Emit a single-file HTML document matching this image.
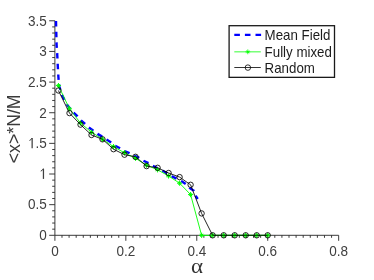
<!DOCTYPE html>
<html><head><meta charset="utf-8"><title>chart</title>
<style>html,body{margin:0;padding:0;background:#fff;}svg{display:block;will-change:transform;}</style></head>
<body>
<svg width="374" height="280" viewBox="0 0 374 280">
<rect width="374" height="280" fill="#fff"/>
<g stroke="#262626" stroke-width="0.9" fill="none">
<path d="M54.90 20.79V235.30H338.66"/>
<path d="M54.90 235.30h-5.7M54.90 229.17h-2.7M54.90 223.04h-2.7M54.90 216.91h-2.7M54.90 210.78h-2.7M54.90 204.66h-5.7M54.90 198.53h-2.7M54.90 192.40h-2.7M54.90 186.27h-2.7M54.90 180.14h-2.7M54.90 174.01h-5.7M54.90 167.88h-2.7M54.90 161.75h-2.7M54.90 155.62h-2.7M54.90 149.49h-2.7M54.90 143.37h-5.7M54.90 137.24h-2.7M54.90 131.11h-2.7M54.90 124.98h-2.7M54.90 118.85h-2.7M54.90 112.72h-5.7M54.90 106.59h-2.7M54.90 100.46h-2.7M54.90 94.33h-2.7M54.90 88.20h-2.7M54.90 82.08h-5.7M54.90 75.95h-2.7M54.90 69.82h-2.7M54.90 63.69h-2.7M54.90 57.56h-2.7M54.90 51.43h-5.7M54.90 45.30h-2.7M54.90 39.17h-2.7M54.90 33.04h-2.7M54.90 26.91h-2.7M54.90 20.79h-5.7M54.90 235.30v5.5M61.99 235.30v2.5M69.09 235.30v2.5M76.18 235.30v2.5M83.28 235.30v2.5M90.37 235.30v2.5M97.46 235.30v2.5M104.56 235.30v2.5M111.65 235.30v2.5M118.75 235.30v2.5M125.84 235.30v5.5M132.93 235.30v2.5M140.03 235.30v2.5M147.12 235.30v2.5M154.22 235.30v2.5M161.31 235.30v2.5M168.40 235.30v2.5M175.50 235.30v2.5M182.59 235.30v2.5M189.69 235.30v2.5M196.78 235.30v5.5M203.87 235.30v2.5M210.97 235.30v2.5M218.06 235.30v2.5M225.16 235.30v2.5M232.25 235.30v2.5M239.34 235.30v2.5M246.44 235.30v2.5M253.53 235.30v2.5M260.63 235.30v2.5M267.72 235.30v5.5M274.81 235.30v2.5M281.91 235.30v2.5M289.00 235.30v2.5M296.10 235.30v2.5M303.19 235.30v2.5M310.28 235.30v2.5M317.38 235.30v2.5M324.47 235.30v2.5M331.57 235.30v2.5M338.66 235.30v5.5"/>
</g>
<g font-family="Liberation Sans, sans-serif" font-size="13.33px" fill="#262626">
<text transform="translate(46.70 240.10) scale(0.94 1)" font-family="Liberation Sans, sans-serif" font-size="14.4px" fill="#404040" text-anchor="end">0</text>
<text transform="translate(46.70 209.46) scale(0.94 1)" font-family="Liberation Sans, sans-serif" font-size="14.4px" fill="#404040" text-anchor="end">0.5</text>
<g transform="translate(43.45 178.81)" fill="none" stroke="#404040"><path d="M0 -10.1V0.1" stroke-width="1.25"/><path d="M-0.2 -10.1Q-0.7 -8.4 -2.7 -7.7" stroke-width="1.0"/></g>
<text transform="translate(46.70 148.17) scale(0.94 1)" font-family="Liberation Sans, sans-serif" font-size="14.4px" fill="#404040" text-anchor="end">.5</text>
<g transform="translate(32.15 148.17)" fill="none" stroke="#404040"><path d="M0 -10.1V0.1" stroke-width="1.25"/><path d="M-0.2 -10.1Q-0.7 -8.4 -2.7 -7.7" stroke-width="1.0"/></g>
<text transform="translate(46.70 117.52) scale(0.94 1)" font-family="Liberation Sans, sans-serif" font-size="14.4px" fill="#404040" text-anchor="end">2</text>
<text transform="translate(46.70 86.88) scale(0.94 1)" font-family="Liberation Sans, sans-serif" font-size="14.4px" fill="#404040" text-anchor="end">2.5</text>
<text transform="translate(46.70 56.23) scale(0.94 1)" font-family="Liberation Sans, sans-serif" font-size="14.4px" fill="#404040" text-anchor="end">3</text>
<text transform="translate(46.70 25.59) scale(0.94 1)" font-family="Liberation Sans, sans-serif" font-size="14.4px" fill="#404040" text-anchor="end">3.5</text>
<text transform="translate(54.90 255.60) scale(0.94 1)" font-family="Liberation Sans, sans-serif" font-size="14.4px" fill="#404040" text-anchor="middle">0</text>
<text transform="translate(125.84 255.60) scale(0.94 1)" font-family="Liberation Sans, sans-serif" font-size="14.4px" fill="#404040" text-anchor="middle">0.2</text>
<text transform="translate(196.78 255.60) scale(0.94 1)" font-family="Liberation Sans, sans-serif" font-size="14.4px" fill="#404040" text-anchor="middle">0.4</text>
<text transform="translate(267.72 255.60) scale(0.94 1)" font-family="Liberation Sans, sans-serif" font-size="14.4px" fill="#404040" text-anchor="middle">0.6</text>
<text transform="translate(338.66 255.60) scale(0.94 1)" font-family="Liberation Sans, sans-serif" font-size="14.4px" fill="#404040" text-anchor="middle">0.8</text>
</g>
<text font-family="Liberation Sans, sans-serif" font-size="17.7px" fill="#3a3a3a" text-anchor="middle" transform="translate(19.8 128.8) rotate(-90)">&lt;x&gt;*N/M</text>
<text transform="translate(197.00 272.60) scale(1.14 1)" font-family="Liberation Serif, serif" font-size="20.2px" fill="#333" text-anchor="middle">α</text>
<defs><clipPath id="ca"><rect x="0" y="0" width="374" height="82.5"/></clipPath><clipPath id="cb"><rect x="0" y="82.5" width="374" height="200"/></clipPath></defs>
<path d="M56.0 21.0 L56.3 33.0 L56.6 45.0 L57.0 50.0 L57.3 55.7 L57.8 66.4 L58.4 77.0 L58.9 83.0 L59.5 87.0 L62.0 95.0 L66.9 104.4 L70.7 109.4 L73.2 112.2 L77.6 116.3 L80.7 120.1 L85.1 123.9 L88.9 127.6 L93.8 131.0 L97.5 133.9 L102.8 137.0 L106.4 139.5 L111.4 142.6 L115.2 145.8 L120.1 148.3 L124.2 151.0 L129.5 153.2 L133.9 155.3 L138.6 157.6 L143.3 160.7 L148.7 163.2 L152.6 165.7 L158.1 168.4 L162.6 170.7 L168.2 173.9 L172.0 176.4 L177.0 178.9 L181.3 181.1 L185.7 184.1 L189.5 187.9 L193.9 190.7 L195.7 195.8 L197.7 199.0" fill="none" stroke="#0000ff" stroke-width="2.4" stroke-dasharray="5.5 5.2" clip-path="url(#ca)"/>
<path d="M56.0 21.0 L56.3 33.0 L56.6 45.0 L57.0 50.0 L57.3 55.7 L57.8 66.4 L58.4 77.0 L58.9 83.0 L59.5 87.0 L62.0 95.0 L66.9 104.4 L70.7 109.4 L73.2 112.2 L77.6 116.3 L80.7 120.1 L85.1 123.9 L88.9 127.6 L93.8 131.0 L97.5 133.9 L102.8 137.0 L106.4 139.5 L111.4 142.6 L115.2 145.8 L120.1 148.3 L124.2 151.0 L129.5 153.2 L133.9 155.3 L138.6 157.6 L143.3 160.7 L148.7 163.2 L152.6 165.7 L158.1 168.4 L162.6 170.7 L168.2 173.9 L172.0 176.4 L177.0 178.9 L181.3 181.1 L185.7 184.1 L189.5 187.9 L193.9 190.7 L195.7 195.8 L197.7 199.0" fill="none" stroke="#0000ff" stroke-width="2.4" stroke-dasharray="5.5 5.2" stroke-dashoffset="0.6" clip-path="url(#cb)"/>
<path d="M58.4 85.6 L69.5 108.8 L80.5 123.1 L91.5 132.2 L102.5 139.2 L113.5 146.7 L124.5 152.8 L135.5 158.3 L146.6 165.2 L157.6 169.8 L168.6 176.0 L179.6 183.2 L190.6 194.6 L201.6 235.3 L212.6 235.3 L223.7 235.3 L234.7 235.3 L245.7 235.3 L256.7 235.3 L267.7 235.3" fill="none" stroke="#00ff00" stroke-width="0.9"/>
<path d="M55.85 85.60L61.05 85.60M56.98 84.13L59.92 87.07M58.45 83.00L58.45 88.20M59.92 84.13L56.98 87.07M66.86 108.80L72.06 108.80M67.99 107.33L70.93 110.27M69.46 106.20L69.46 111.40M70.93 107.33L67.99 110.27M77.88 123.10L83.08 123.10M79.00 121.63L81.95 124.57M80.48 120.50L80.48 125.70M81.95 121.63L79.00 124.57M88.89 132.20L94.09 132.20M90.02 130.73L92.96 133.67M91.49 129.60L91.49 134.80M92.96 130.73L90.02 133.67M99.90 139.20L105.10 139.20M101.03 137.73L103.98 140.67M102.50 136.60L102.50 141.80M103.98 137.73L101.03 140.67M110.92 146.70L116.12 146.70M112.05 145.23L114.99 148.17M113.52 144.10L113.52 149.30M114.99 145.23L112.05 148.17M121.93 152.80L127.13 152.80M123.06 151.33L126.00 154.27M124.53 150.20L124.53 155.40M126.00 151.33L123.06 154.27M132.95 158.30L138.15 158.30M134.08 156.83L137.02 159.77M135.55 155.70L135.55 160.90M137.02 156.83L134.08 159.77M143.96 165.20L149.16 165.20M145.09 163.73L148.03 166.67M146.56 162.60L146.56 167.80M148.03 163.73L145.09 166.67M154.98 169.80L160.18 169.80M156.11 168.33L159.05 171.27M157.58 167.20L157.58 172.40M159.05 168.33L156.11 171.27M165.99 176.00L171.19 176.00M167.12 174.53L170.06 177.47M168.59 173.40L168.59 178.60M170.06 174.53L167.12 177.47M177.01 183.20L182.21 183.20M178.13 181.73L181.08 184.67M179.61 180.60L179.61 185.80M181.08 181.73L178.13 184.67M188.02 194.60L193.22 194.60M189.15 193.13L192.09 196.07M190.62 192.00L190.62 197.20M192.09 193.13L189.15 196.07M199.03 235.30L204.23 235.30M200.16 233.83L203.10 236.77M201.63 232.70L201.63 237.90M203.10 233.83L200.16 236.77M210.05 235.30L215.25 235.30M211.18 233.83L214.12 236.77M212.65 232.70L212.65 237.90M214.12 233.83L211.18 236.77M221.06 235.30L226.26 235.30M222.19 233.83L225.13 236.77M223.66 232.70L223.66 237.90M225.13 233.83L222.19 236.77M232.08 235.30L237.28 235.30M233.21 233.83L236.15 236.77M234.68 232.70L234.68 237.90M236.15 233.83L233.21 236.77M243.09 235.30L248.29 235.30M244.22 233.83L247.16 236.77M245.69 232.70L245.69 237.90M247.16 233.83L244.22 236.77M254.11 235.30L259.31 235.30M255.23 233.83L258.18 236.77M256.71 232.70L256.71 237.90M258.18 233.83L255.23 236.77M265.12 235.30L270.32 235.30M266.25 233.83L269.19 236.77M267.72 232.70L267.72 237.90M269.19 233.83L266.25 236.77" fill="none" stroke="#00ff00" stroke-width="1"/>
<path d="M58.4 90.5 L69.5 113.1 L80.5 124.6 L91.5 135.0 L102.5 139.3 L113.5 149.2 L124.5 154.7 L135.5 156.8 L146.6 166.1 L157.6 167.8 L168.6 173.0 L179.6 177.1 L190.6 184.8 L201.6 213.4 L212.6 235.3 L223.7 235.3 L234.7 235.3 L245.7 235.3 L256.7 235.3 L267.7 235.3" fill="none" stroke="#000" stroke-width="0.85"/>
<circle cx="58.4" cy="90.5" r="2.7" fill="none" stroke="#000" stroke-width="0.85"/>
<circle cx="69.5" cy="113.1" r="2.7" fill="none" stroke="#000" stroke-width="0.85"/>
<circle cx="80.5" cy="124.6" r="2.7" fill="none" stroke="#000" stroke-width="0.85"/>
<circle cx="91.5" cy="135.0" r="2.7" fill="none" stroke="#000" stroke-width="0.85"/>
<circle cx="102.5" cy="139.3" r="2.7" fill="none" stroke="#000" stroke-width="0.85"/>
<circle cx="113.5" cy="149.2" r="2.7" fill="none" stroke="#000" stroke-width="0.85"/>
<circle cx="124.5" cy="154.7" r="2.7" fill="none" stroke="#000" stroke-width="0.85"/>
<circle cx="135.5" cy="156.8" r="2.7" fill="none" stroke="#000" stroke-width="0.85"/>
<circle cx="146.6" cy="166.1" r="2.7" fill="none" stroke="#000" stroke-width="0.85"/>
<circle cx="157.6" cy="167.8" r="2.7" fill="none" stroke="#000" stroke-width="0.85"/>
<circle cx="168.6" cy="173.0" r="2.7" fill="none" stroke="#000" stroke-width="0.85"/>
<circle cx="179.6" cy="177.1" r="2.7" fill="none" stroke="#000" stroke-width="0.85"/>
<circle cx="190.6" cy="184.8" r="2.7" fill="none" stroke="#000" stroke-width="0.85"/>
<circle cx="201.6" cy="213.4" r="2.7" fill="none" stroke="#000" stroke-width="0.85"/>
<circle cx="212.6" cy="235.3" r="2.7" fill="none" stroke="#000" stroke-width="0.85"/>
<circle cx="223.7" cy="235.3" r="2.7" fill="none" stroke="#000" stroke-width="0.85"/>
<circle cx="234.7" cy="235.3" r="2.7" fill="none" stroke="#000" stroke-width="0.85"/>
<circle cx="245.7" cy="235.3" r="2.7" fill="none" stroke="#000" stroke-width="0.85"/>
<circle cx="256.7" cy="235.3" r="2.7" fill="none" stroke="#000" stroke-width="0.85"/>
<circle cx="267.7" cy="235.3" r="2.7" fill="none" stroke="#000" stroke-width="0.85"/>
<rect x="229.1" y="25.7" width="105.4" height="51.65" fill="#fff" stroke="#1a1a1a" stroke-width="1.3"/>
<path d="M234.3 34.9H261.2" stroke="#0000ff" stroke-width="2.4" stroke-dasharray="5.6 5" fill="none"/>
<path d="M234.3 51.85H260.8" stroke="#00ff00" stroke-width="0.8" fill="none"/>
<path d="M245.40 51.85L250.20 51.85M246.44 50.49L249.16 53.21M247.80 49.45L247.80 54.25M249.16 50.49L246.44 53.21" stroke="#00ff00" stroke-width="0.8" fill="none"/>
<path d="M234.3 67.5H260.8" stroke="#000" stroke-width="0.8" fill="none"/>
<circle cx="247.9" cy="67.6" r="2.75" fill="none" stroke="#000" stroke-width="0.8"/>
<g font-family="Liberation Sans, sans-serif" font-size="13.33px" fill="#000">
<text transform="translate(264.60 40.30) scale(0.951 1)" font-family="Liberation Sans, sans-serif" font-size="14.0px" fill="#1c1c1c" text-anchor="start">Mean Field</text>
<text transform="translate(264.60 56.80) scale(0.951 1)" font-family="Liberation Sans, sans-serif" font-size="14.0px" fill="#1c1c1c" text-anchor="start">Fully mixed</text>
<text transform="translate(264.60 73.20) scale(0.951 1)" font-family="Liberation Sans, sans-serif" font-size="14.0px" fill="#1c1c1c" text-anchor="start">Random</text>
</g>
</svg>
</body></html>
